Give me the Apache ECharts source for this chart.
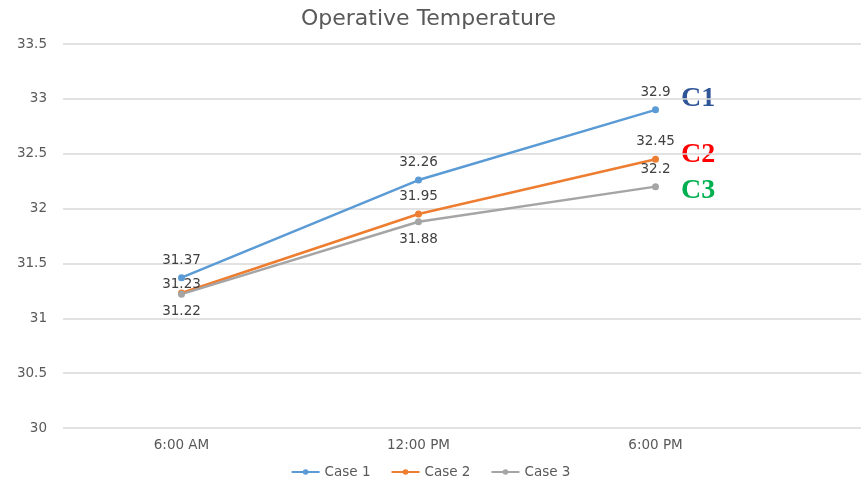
<!DOCTYPE html>
<html>
<head>
<meta charset="utf-8">
<script src="https://cdn.jsdelivr.net/npm/echarts@6/dist/echarts.min.js"></script>
<style>
  html, body { margin: 0; padding: 0; background: #fff; }
  #chart { width: 861px; height: 483px; }
</style>
</head>
<body>
<div id="chart"></div>
<script>
// Time-of-day categories
const categories = ['6:00 AM', '12:00 PM', '6:00 PM'];
const case1 = [31.37, 32.26, 32.9];
const case2 = [31.23, 31.95, 32.45];
const case3 = [31.22, 31.88, 32.2];
// Label placement per point
const case2LabelGap = [-2, 7, 7];
const case3LabelPos = ['bottom', 'bottom', 'top'];
const yTicks = { min: 30, max: 33.5, step: 0.5 };

const font = '"DejaVu Sans", "Open Sans", sans-serif';
const colors = ['#5B9BD5', '#ED7D31', '#A5A5A5'];

function makeSeries(name, values, color, positions, gaps) {
  return {
    name: name,
    type: 'line',
    xAxisIndex: 0,
    yAxisIndex: 0,
    data: values.map((v, i) => ({
      value: v,
      label: {
        position: positions ? positions[i] : 'top',
        distance: gaps ? gaps[i] : 7
      }
    })),
    symbol: 'circle',
    symbolSize: 7,
    lineStyle: { color: color, width: 2.5 },
    itemStyle: { color: color },
    label: {
      show: true,
      color: '#404040',
      fontFamily: font,
      fontSize: 13.5
    },
    animation: false
  };
}

const chart = echarts.init(document.getElementById('chart'));
chart.setOption({
  animation: false,
  title: {
    text: 'Operative Temperature',
    left: 296,
    top: 3,
    textStyle: { color: '#595959', fontFamily: font, fontSize: 22, fontWeight: 'normal' }
  },
  legend: {
    bottom: -1,
    left: 'center',
    itemWidth: 28,
    itemHeight: 7,
    itemGap: 20,
    textStyle: { color: '#595959', fontFamily: font, fontSize: 13.5 },
    data: ['Case 1', 'Case 2', 'Case 3']
  },
  grid: [
    // plotting area for the three time points
    { left: 63, right: 87, top: 44, bottom: 55 },
    // full-width background area carrying the horizontal gridlines
    { left: 63, right: 0, top: 44, bottom: 55 }
  ],
  xAxis: [
    {
      type: 'category',
      gridIndex: 0,
      data: categories,
      boundaryGap: true,
      axisLine: { show: false },
      axisTick: { show: false },
      axisLabel: { color: '#595959', fontFamily: font, fontSize: 13.5, margin: 10 }
    },
    { type: 'value', gridIndex: 1, show: false }
  ],
  yAxis: [
    {
      type: 'value',
      gridIndex: 0,
      min: yTicks.min,
      max: yTicks.max,
      interval: yTicks.step,
      axisLine: { show: false },
      axisTick: { show: false },
      axisLabel: { color: '#595959', fontFamily: font, fontSize: 13.5, margin: 16 },
      splitLine: { show: false },
      z: 3
    },
    {
      type: 'value',
      gridIndex: 1,
      min: yTicks.min,
      max: yTicks.max,
      interval: yTicks.step,
      axisLine: { show: false },
      axisTick: { show: false },
      axisLabel: { show: false },
      splitLine: { lineStyle: { color: '#D9D9D9', width: 1.5 } },
      z: 0
    }
  ],
  graphic: [
    { type: 'text', left: 681, top: 85, style: { text: 'C1', fill: '#2F5597', font: 'bold 28px "Liberation Serif", serif' } },
    { type: 'text', left: 681, top: 141, style: { text: 'C2', fill: '#FF0000', font: 'bold 28px "Liberation Serif", serif' } },
    { type: 'text', left: 681, top: 177, style: { text: 'C3', fill: '#00B050', font: 'bold 28px "Liberation Serif", serif' } }
  ],
  series: [
    makeSeries('Case 1', case1, colors[0]),
    makeSeries('Case 2', case2, colors[1], null, case2LabelGap),
    makeSeries('Case 3', case3, colors[2], case3LabelPos)
  ]
});
</script>
</body>
</html>
